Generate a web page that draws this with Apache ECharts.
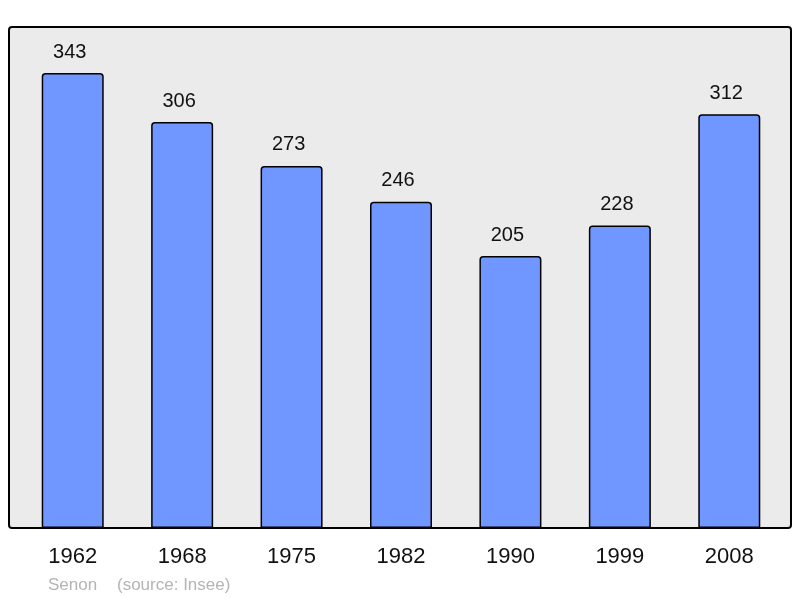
<!DOCTYPE html>
<html>
  <head>
      <meta charset="utf-8">
      <script src="https://cdn.jsdelivr.net/npm/echarts@6/dist/echarts.min.js"></script>
      <style>body{margin:0;background:#fff;}</style>
  </head>
  <body>
      <div id="main" style="width: 800px;height:598px;"></div>
      <script type="text/javascript">
          // population by census year
          var years = ['1962', '1968', '1975', '1982', '1990', '1999', '2008'];
          var population = [343, 306, 273, 246, 205, 228, 312];
          var townName = 'Senon';
          var sourceText = '(source: Insee)';

          var myChart = echarts.init(document.getElementById('main'));

          var option = {
              animation: false,
              textStyle: {fontFamily: 'Liberation Sans, Arial, sans-serif'},
              grid: {left: 18, right: 16, top: 27, bottom: 70},
              graphic: [
                  {
                      type: 'rect',
                      z: -10,
                      shape: {x: 9, y: 27, width: 782, height: 501, r: 3},
                      style: {fill: '#ebebeb', stroke: '#000', lineWidth: 2}
                  },
                  {
                      type: 'text', left: 48, top: 577,
                      style: {text: townName, fill: '#b4b4b4', font: '17px Liberation Sans'}
                  },
                  {
                      type: 'text', left: 117, top: 577,
                      style: {text: sourceText, fill: '#b4b4b4', font: '17px Liberation Sans'}
                  }
              ],
              xAxis: {
                  type: 'category',
                  data: years,
                  axisLine: {show: false},
                  axisTick: {show: false},
                  axisLabel: {margin: 18, fontSize: 22, color: '#111'}
              },
              yAxis: {
                  type: 'value',
                  min: 0,
                  max: 377.7,
                  show: false,
                  splitLine: {show: false}
              },
              series: [{
                  type: 'bar',
                  data: population,
                  barWidth: 62,
                  itemStyle: {
                      color: '#7096ff',
                      borderColor: '#000',
                      borderWidth: 1.5,
                      borderRadius: [3, 3, 0, 0]
                  },
                  label: {
                      show: true,
                      position: 'top',
                      distance: 11,
                      fontSize: 20,
                      color: '#111',
                      offset: [-3, 0]
                  }
              }]
          };
          myChart.setOption(option);
      </script>
  </body>
</html>
